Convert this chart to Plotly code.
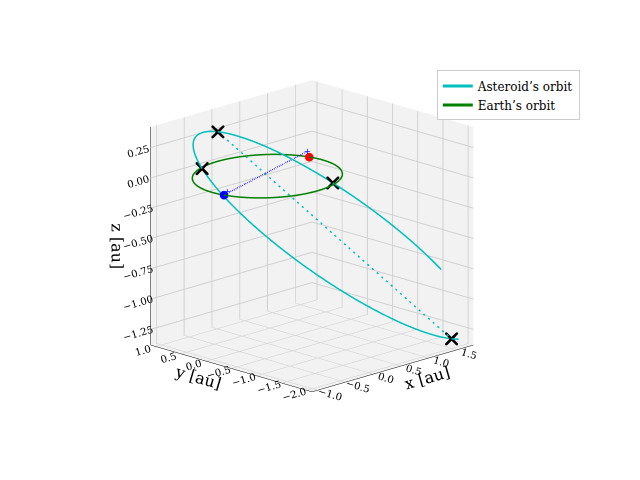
import numpy as np
import plotly.graph_objects as go

# Asteroid orbit: nodes, far apsis, top height
node_1 = [-0.35, 0.91, 0.0]
node_2 = [0.38, -0.88, 0.0]
far_apsis = [1.5, -2.0, -1.3]
top_z = 0.35
earth_radius = 1.0
earth_pos = [-0.975, -0.215, 0.0]
ast_pos = [0.97, 0.24, 0.0]
plus_near_ast = [0.9, 0.2, 0.06]
plus_near_earth = [-0.95, -0.25, 0.03]

N1, N2, Bp = np.array(node_1), np.array(node_2), np.array(far_apsis)
M = (N1 + N2) / 2
k = (top_z + Bp[2]) / 2
c = -(k) / ((Bp[2] - top_z) / 2)      # cos at node
U = (Bp - M) / (1 - c)
C = M - c * U
V = (N2 - M) / np.sqrt(1 - c**2)
A = C - U
t = np.linspace(0, 2*np.pi, 300)
ell = C[:, None] + U[:, None]*np.cos(t) + V[:, None]*np.sin(t)

fig = go.Figure()
fig.add_trace(go.Scatter3d(x=ell[0], y=ell[1], z=ell[2], mode="lines",
    line=dict(color="#00bfbf", width=3), name="Asteroid’s orbit"))
fig.add_trace(go.Scatter3d(x=earth_radius*np.cos(t), y=earth_radius*np.sin(t), z=0*t,
    mode="lines", line=dict(color="green", width=3), name="Earth’s orbit"))
fig.add_trace(go.Scatter3d(x=[A[0], Bp[0]], y=[A[1], Bp[1]], z=[A[2], Bp[2]], mode="lines",
    line=dict(color="#00bfbf", width=3, dash="dash"), showlegend=False))
fig.add_trace(go.Scatter3d(x=[earth_pos[0], plus_near_ast[0]], y=[earth_pos[1], plus_near_ast[1]],
    z=[earth_pos[2], plus_near_ast[2]], mode="lines",
    line=dict(color="blue", width=3, dash="dash"), showlegend=False))
xs = [A, Bp, N1, N2]
fig.add_trace(go.Scatter3d(x=[p[0] for p in xs], y=[p[1] for p in xs], z=[p[2] for p in xs],
    mode="markers", marker=dict(symbol="x", color="black", size=3), showlegend=False))
fig.add_trace(go.Scatter3d(x=[earth_pos[0]], y=[earth_pos[1]], z=[earth_pos[2]], mode="markers",
    marker=dict(color="blue", size=5), showlegend=False))
fig.add_trace(go.Scatter3d(x=[ast_pos[0]], y=[ast_pos[1]], z=[ast_pos[2]], mode="markers",
    marker=dict(color="red", size=5), showlegend=False))
fig.add_trace(go.Scatter3d(x=[plus_near_ast[0], plus_near_earth[0]],
    y=[plus_near_ast[1], plus_near_earth[1]], z=[plus_near_ast[2], plus_near_earth[2]],
    mode="markers", marker=dict(symbol="cross", color="blue", size=3), showlegend=False))

ax = dict(backgroundcolor="#f2f2f2", gridcolor="#d0d0d0", showbackground=True,
          zeroline=False, tickfont=dict(size=11), linecolor="black")
fig.update_layout(
    width=640, height=480, margin=dict(l=0, r=0, t=0, b=0),
    font=dict(family="DejaVu Serif", color="black"),
    paper_bgcolor="white",
    legend=dict(x=0.67, y=0.87, bordercolor="#ccc", borderwidth=1, font=dict(size=12)),
    scene=dict(
        xaxis=dict(ax, title=dict(text="x [au]", font=dict(size=16)), range=[-1.1, 1.8],
                   tickvals=[-1, -0.5, 0, 0.5, 1, 1.5], tickformat=".1f"),
        yaxis=dict(ax, title=dict(text="y [au]", font=dict(size=16)), range=[-2.1, 1.1],
                   tickvals=[-2, -1.5, -1, -0.5, 0, 0.5, 1], tickformat=".1f"),
        zaxis=dict(ax, title=dict(text="z [au]", font=dict(size=16)), range=[-1.38, 0.42],
                   tickvals=[-1.25, -1, -0.75, -0.5, -0.25, 0, 0.25], tickformat=".2f"),
        aspectmode="cube",
        camera=dict(eye=dict(x=-1.4, y=-1.4, z=0.6), projection=dict(type="orthographic")),
        domain=dict(x=[0.0, 0.95], y=[0.05, 1.0]),
    ),
)
fig.write_html("out.html")
